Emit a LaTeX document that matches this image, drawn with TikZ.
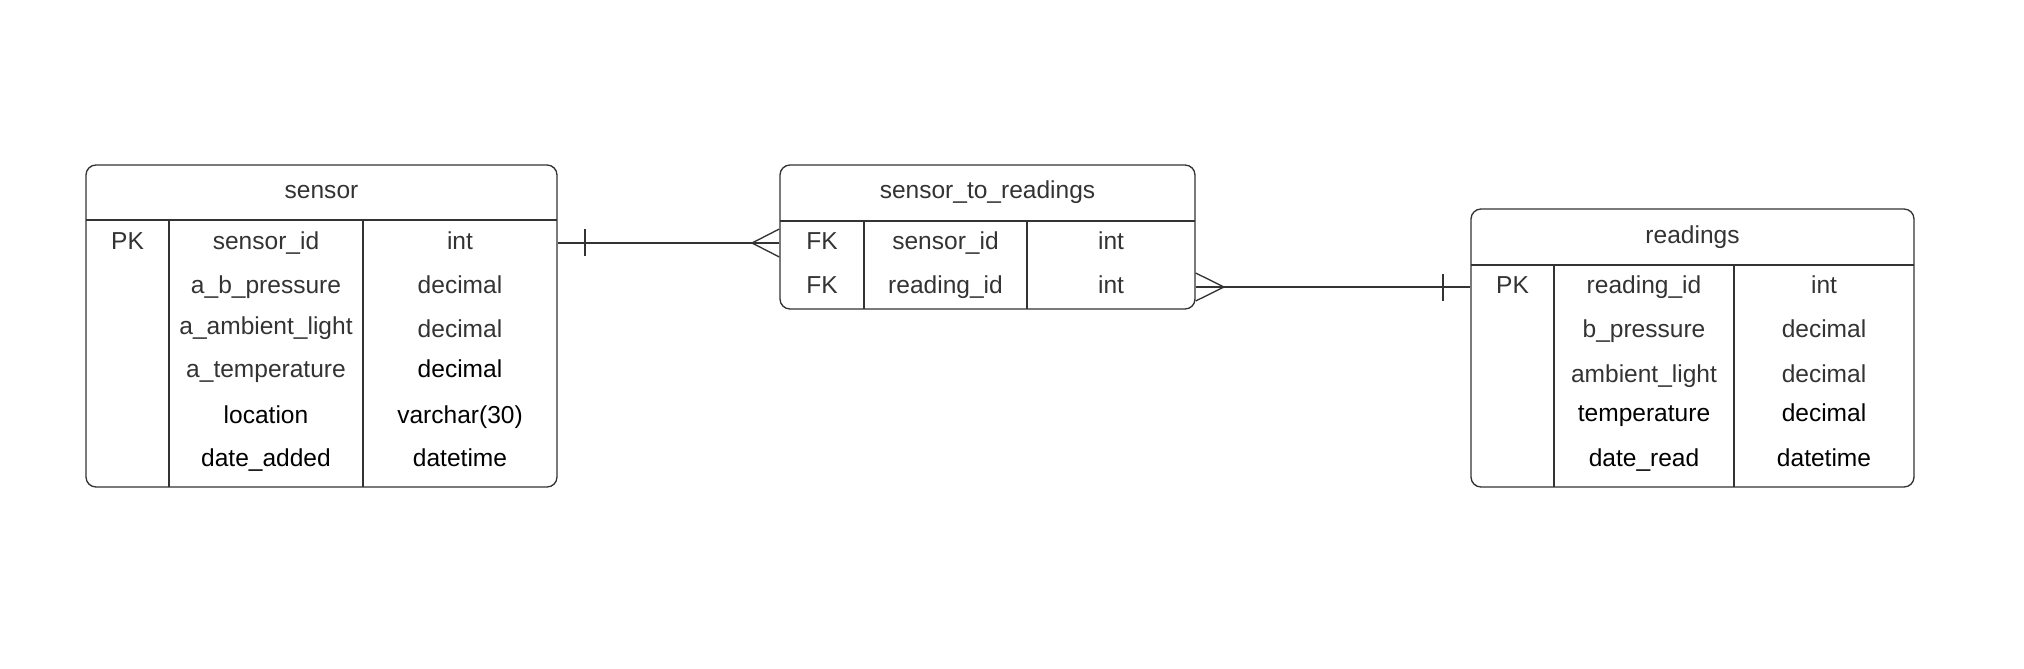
\documentclass[tikz,border=0pt]{standalone}
\usepackage{fontspec}
\setmainfont{Liberation Sans}
\usetikzlibrary{fit}
\definecolor{ink}{HTML}{333333}
\begin{document}
\begin{tikzpicture}[x=0.75pt,y=-0.75pt,
  tablebox/.style={draw=ink, line width=1pt, rounded corners=7.5pt, inner sep=0pt},
  rule/.style={draw=ink, line width=1pt},
  conn/.style={draw=ink, line width=1pt},
  cell/.style={anchor=base, inner sep=0pt, font=\fontsize{18.4}{22}\selectfont, text=ink},
  dark/.style={text=black}]
\useasboundingbox (0,0) rectangle (2024,668);

% ---------- sensor ----------
\node[tablebox, fit={(86,165) (557,487)}] (sensor) {};
\draw[rule] (86,220) -- (557,220);
\draw[rule] (169,220) -- (169,487);
\draw[rule] (363,220) -- (363,487);
\node[cell] (sT) at (321.5,198.8) {sensor};
\node[cell] (sPK) at (127.5,249) {PK};
\node[cell] (s1) at (266,249) {sensor\_id};
\node[cell] (s1t) at (460,249) {int};
\node[cell] (s2) at (266,293) {a\_b\_pressure};
\node[cell] (s2t) at (460,293) {decimal};
\node[cell] (s3) at (266,334) {a\_ambient\_light};
\node[cell] (s3t) at (460,337.3) {decimal};
\node[cell] (s4) at (266,377.3) {a\_temperature};
\node[cell,dark] (s4t) at (460,377.3) {decimal};
\node[cell,dark] (s5) at (266,423) {location};
\node[cell,dark] (s5t) at (460,423) {varchar(30)};
\node[cell,dark] (s6) at (266,466.3) {date\_added};
\node[cell,dark] (s6t) at (460,466.3) {datetime};

% ---------- sensor_to_readings ----------
\node[tablebox, fit={(780,165) (1195,309)}] (s2r) {};
\draw[rule] (780,221) -- (1195,221);
\draw[rule] (864,221) -- (864,309);
\draw[rule] (1027,221) -- (1027,309);
\node[cell] (mT) at (987.5,198.8) {sensor\_to\_readings};
\node[cell] (mFK1) at (822,249) {FK};
\node[cell] (m1) at (945.5,249) {sensor\_id};
\node[cell] (m1t) at (1111,249) {int};
\node[cell] (mFK2) at (822,293) {FK};
\node[cell] (m2) at (945.5,293) {reading\_id};
\node[cell] (m2t) at (1111,293) {int};

% ---------- readings ----------
\node[tablebox, fit={(1471,209) (1914,487)}] (readings) {};
\draw[rule] (1471,265) -- (1914,265);
\draw[rule] (1554,265) -- (1554,487);
\draw[rule] (1734,265) -- (1734,487);
\node[cell] (rT) at (1692.5,243) {readings};
\node[cell] (rPK) at (1512.5,293) {PK};
\node[cell] (r1) at (1644,293) {reading\_id};
\node[cell] (r1t) at (1824,293) {int};
\node[cell] (r2) at (1644,337.3) {b\_pressure};
\node[cell] (r2t) at (1824,337.3) {decimal};
\node[cell] (r3) at (1644,382) {ambient\_light};
\node[cell] (r3t) at (1824,382) {decimal};
\node[cell,dark] (r4) at (1644,421.3) {temperature};
\node[cell,dark] (r4t) at (1824,421.3) {decimal};
\node[cell,dark] (r5) at (1644,466.3) {date\_read};
\node[cell,dark] (r5t) at (1824,466.3) {datetime};

% ---------- connectors ----------
% sensor (one) -- sensor_to_readings (many)
\draw[conn] (sensor.east |- 0,243) -- (s2r.west |- 0,243);
\draw[conn] (585,229) -- (585,256);
\draw[conn] (s2r.west |- 0,229) -- (752,243) -- (s2r.west |- 0,257);
% sensor_to_readings (many) -- readings (one)
\draw[conn] (s2r.east |- 0,287) -- (readings.west |- 0,287);
\draw[conn] (1443,274) -- (1443,301);
\draw[conn] (s2r.east |- 0,273) -- (1224,287) -- (s2r.east |- 0,301);
\end{tikzpicture}
\end{document}
